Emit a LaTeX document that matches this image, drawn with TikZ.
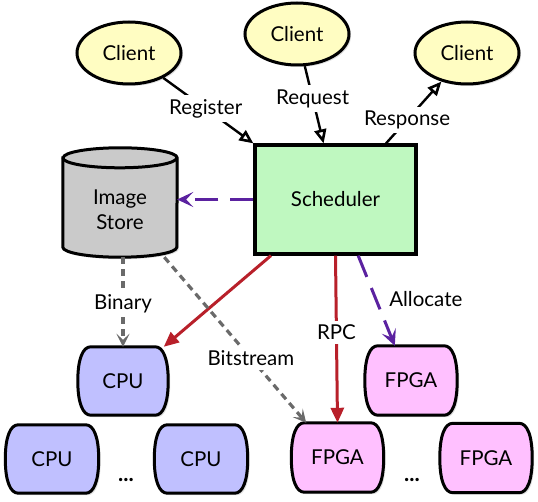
\documentclass[tikz,border=0pt]{standalone}
\usepackage{fontspec}
\setmainfont{Lato}
\usetikzlibrary{arrows.meta,calc,shadows,shapes.geometric}
\definecolor{clientfill}{HTML}{FFFDC2}
\definecolor{schfill}{HTML}{BFF8C0}
\definecolor{storefill}{HTML}{CACACA}
\definecolor{cpufill}{HTML}{C0C0FF}
\definecolor{fpgafill}{HTML}{FFC0FF}
\definecolor{redc}{HTML}{B8202A}
\definecolor{purc}{HTML}{5B22A0}
\definecolor{grayc}{HTML}{6A6A6A}
\tikzset{
  every node/.style={font=\fontsize{20.5}{25}\selectfont},
  shd/.style={drop shadow={shadow xshift=2pt,shadow yshift=-2pt,opacity=0.25}},
  client/.style={ellipse,draw,line width=3pt,fill=clientfill,minimum width=104pt,minimum height=62pt,inner sep=0pt,shd},
  schbox/.style={rectangle,draw,line width=3.2pt,fill=schfill,minimum width=161pt,minimum height=109pt,shd},
  frame/.style={rectangle,inner sep=0pt},
  shapeline/.style={line width=3pt,draw=black,shd},
  lab/.style={fill=white,inner sep=4pt},
  blk/.style={line width=2.4pt,-{Triangle[open,length=14pt,width=12pt,line width=2.6pt]}},
  redarrow/.style={draw=redc,line width=3pt,-{Triangle[length=15pt,width=13pt]}},
  purarrow/.style={draw=purc,line width=3pt,dash pattern=on 23pt off 12pt,-{Stealth[length=16pt,width=15pt,inset=7pt]}},
  grayarrow/.style={draw=grayc,line width=3.2pt,dash pattern=on 7pt off 5pt,-{Stealth[length=13pt,width=13pt,inset=6pt]}},
}
\newcommand{\barrel}[2]{%
  \path[shapeline,fill=#2]
    ($(#1.north west)+(13,0)$) -- ($(#1.north east)+(-13,0)$)
    .. controls ($(#1.north east)+(-5,0)$) and ($(#1.north east)+(0,12)$) .. (#1.east)
    .. controls ($(#1.south east)+(0,-12)$) and ($(#1.south east)+(-5,0)$) .. ($(#1.south east)+(-13,0)$)
    -- ($(#1.south west)+(13,0)$)
    .. controls ($(#1.south west)+(5,0)$) and ($(#1.south west)+(0,-12)$) .. (#1.west)
    .. controls ($(#1.north west)+(0,12)$) and ($(#1.north west)+(5,0)$) .. cycle;}
\begin{document}
\begin{tikzpicture}[x=1pt,y=-1pt]
\useasboundingbox (0,0) rectangle (538,502);
% clients
\node[client] (c1) at (129,53) {Client};
\node[client] (c2) at (297,34) {Client};
\node[client] (c3) at (467,53) {Client};
% scheduler
\node[schbox] (sch) at (335.5,199.5) {Scheduler};
% image store
\node[frame,minimum width=114pt,minimum height=109pt] (store) at (120,202.5) {};
\path[shapeline,fill=storefill] ($(store.north west)+(0,10)$) -- ($(store.south west)+(0,-10)$)
  arc[start angle=180,end angle=360,x radius=57pt,y radius=10pt]
  -- ($(store.north east)+(0,10)$)
  arc[start angle=0,end angle=180,x radius=57pt,y radius=10pt] -- cycle;
\draw[line width=3pt] ($(store.north west)+(0,10)$) arc[start angle=180,end angle=360,x radius=57pt,y radius=10pt];
\node[align=center,inner sep=0pt] (storelbl) at ($(store.center)+(0,7)$) {Image\\Store};
% processing units
\node[frame,minimum width=90pt,minimum height=68pt] (cpu1) at (123,381) {};
\node[frame,minimum width=93pt,minimum height=68pt] (cpu2) at (52,459) {};
\node[frame,minimum width=93pt,minimum height=68pt] (cpu3) at (201,459) {};
\node[frame,minimum width=92pt,minimum height=69pt] (fp1) at (411,380.5) {};
\node[frame,minimum width=92pt,minimum height=69pt] (fp2) at (337.5,457.5) {};
\node[frame,minimum width=92pt,minimum height=69pt] (fp3) at (486,458) {};
\barrel{cpu1}{cpufill}
\barrel{cpu2}{cpufill}
\barrel{cpu3}{cpufill}
\barrel{fp1}{fpgafill}
\barrel{fp2}{fpgafill}
\barrel{fp3}{fpgafill}
\node at (cpu1) {CPU};
\node at (cpu2) {CPU};
\node at (cpu3) {CPU};
\node at (fp1) {FPGA};
\node at (fp2) {FPGA};
\node at (fp3) {FPGA};
\node[anchor=base,font=\fontsize{22}{25}\selectfont\bfseries] (dots1) at (126,481) {...};
\node[anchor=base,font=\fontsize{22}{25}\selectfont\bfseries] (dots2) at (412,481) {...};
% connectors
\draw[blk] (c1) -- node[lab,pos=0.47]{Register} (sch.north west);
\draw[blk] (c2) -- node[lab,pos=0.42]{Request} (sch.102);
\draw[blk] (sch.48) -- node[lab,pos=0.38]{Response} (c3);
\draw[purarrow] (sch.west) -- (sch.west -| store.east);
\draw[redarrow] (sch.221) -- (cpu1.40);
\draw[redarrow] (sch.south) -- node[lab,pos=0.46]{RPC} (fp2.north);
\draw[purarrow] (sch.292) -- node[pos=0.48,anchor=west,xshift=12pt,inner sep=0pt]{Allocate} (fp1.115);
\draw[grayarrow] (cpu1.north |- store.south) -- node[lab,pos=0.52]{Binary} (cpu1.north);
\draw[grayarrow] (store.309) -- node[lab,pos=0.61]{Bitstream} (fp2.132);
\end{tikzpicture}
\end{document}
